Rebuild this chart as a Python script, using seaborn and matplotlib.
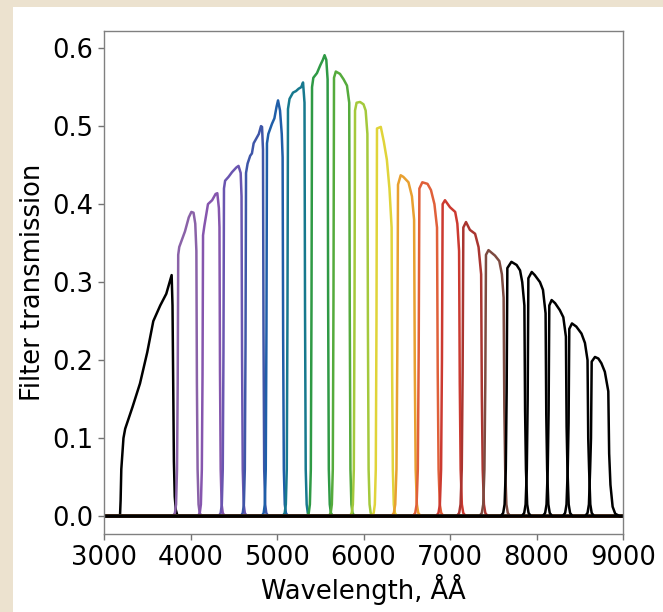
import matplotlib
matplotlib.use("Agg")
import matplotlib.pyplot as plt
import seaborn as sns
import pandas as pd
from matplotlib.patches import Rectangle

# ---------------- data ----------------
wave_f00 = [3000, 3185, 3192, 3200, 3225, 3245, 3330, 3416, 3500, 3570, 3650, 3720, 3782, 3792, 3800, 3808, 3818, 3830, 3850, 9000]
trans_f00 = [0, 0, 0.02, 0.06, 0.10, 0.112, 0.14, 0.17, 0.21, 0.25, 0.27, 0.285, 0.309, 0.27, 0.17, 0.07, 0.025, 0.008, 0, 0]

wave_f01 = [3000, 3798, 3820, 3833, 3844, 3852, 3858, 3870, 3936, 3980, 4010, 4035, 4055, 4068, 4074, 4082, 4093, 4106, 4128, 9000]
trans_f01 = [0, 0, 0.004, 0.015, 0.06, 0.17, 0.335, 0.345, 0.365, 0.383, 0.39, 0.389, 0.375, 0.34, 0.17, 0.06, 0.015, 0.004, 0, 0]

wave_f02 = [3000, 4085, 4107, 4120, 4131, 4139, 4145, 4160, 4202, 4250, 4290, 4310, 4328, 4335, 4341, 4349, 4360, 4373, 4395, 9000]
trans_f02 = [0, 0, 0.004, 0.015, 0.06, 0.18, 0.36, 0.372, 0.40, 0.405, 0.413, 0.414, 0.395, 0.37, 0.185, 0.06, 0.015, 0.004, 0, 0]

wave_f03 = [3000, 4327, 4349, 4362, 4373, 4381, 4387, 4400, 4440, 4480, 4530, 4555, 4580, 4590, 4596, 4604, 4615, 4628, 4650, 9000]
trans_f03 = [0, 0, 0.004, 0.015, 0.06, 0.21, 0.42, 0.43, 0.435, 0.441, 0.447, 0.449, 0.44, 0.41, 0.205, 0.06, 0.015, 0.004, 0, 0]

wave_f04 = [3000, 4582, 4604, 4617, 4628, 4636, 4642, 4660, 4690, 4710, 4730, 4760, 4790, 4815, 4827, 4838, 4844, 4852, 4863, 4876, 4898, 9000]
trans_f04 = [0, 0, 0.004, 0.015, 0.06, 0.22, 0.44, 0.452, 0.462, 0.465, 0.478, 0.484, 0.49, 0.50, 0.499, 0.47, 0.235, 0.06, 0.015, 0.004, 0, 0]

wave_f05 = [3000, 4824, 4846, 4859, 4870, 4878, 4884, 4900, 4942, 4970, 4995, 5012, 5035, 5055, 5065, 5071, 5079, 5090, 5103, 5125, 9000]
trans_f05 = [0, 0, 0.004, 0.015, 0.06, 0.24, 0.478, 0.49, 0.503, 0.51, 0.525, 0.533, 0.52, 0.49, 0.46, 0.23, 0.06, 0.015, 0.004, 0, 0]

wave_f06 = [3000, 5067, 5089, 5102, 5113, 5121, 5127, 5145, 5185, 5220, 5250, 5280, 5301, 5318, 5324, 5332, 5343, 5356, 5378, 9000]
trans_f06 = [0, 0, 0.004, 0.015, 0.06, 0.26, 0.522, 0.535, 0.543, 0.545, 0.548, 0.55, 0.556, 0.53, 0.265, 0.06, 0.015, 0.004, 0, 0]

wave_f07 = [3000, 5345, 5367, 5380, 5391, 5399, 5405, 5420, 5462, 5500, 5530, 5550, 5570, 5585, 5591, 5599, 5610, 5623, 5645, 9000]
trans_f07 = [0, 0, 0.004, 0.015, 0.06, 0.275, 0.55, 0.562, 0.568, 0.578, 0.585, 0.591, 0.585, 0.56, 0.28, 0.06, 0.015, 0.004, 0, 0]

wave_f08 = [3000, 5599, 5621, 5634, 5645, 5653, 5659, 5680, 5728, 5770, 5809, 5835, 5841, 5849, 5860, 5873, 5895, 9000]
trans_f08 = [0, 0, 0.004, 0.015, 0.06, 0.28, 0.562, 0.57, 0.567, 0.56, 0.552, 0.53, 0.265, 0.06, 0.015, 0.004, 0, 0]

wave_f09 = [3000, 5842, 5864, 5877, 5888, 5896, 5902, 5920, 5960, 6000, 6025, 6045, 6051, 6059, 6070, 6083, 6105, 9000]
trans_f09 = [0, 0, 0.004, 0.015, 0.06, 0.26, 0.52, 0.53, 0.531, 0.528, 0.52, 0.49, 0.245, 0.06, 0.015, 0.004, 0, 0]

wave_f10 = [3000, 6096, 6118, 6131, 6142, 6150, 6156, 6200, 6235, 6270, 6300, 6325, 6331, 6339, 6350, 6363, 6385, 9000]
trans_f10 = [0, 0, 0.004, 0.015, 0.06, 0.25, 0.497, 0.499, 0.48, 0.457, 0.42, 0.37, 0.185, 0.06, 0.015, 0.004, 0, 0]

wave_f11 = [3000, 6324, 6351, 6367, 6381, 6391, 6399, 6430, 6460, 6520, 6560, 6585, 6593, 6603, 6617, 6633, 6660, 9000]
trans_f11 = [0, 0, 0.004, 0.015, 0.06, 0.21, 0.425, 0.437, 0.435, 0.428, 0.41, 0.38, 0.19, 0.06, 0.015, 0.004, 0, 0]

wave_f12 = [3000, 6571, 6598, 6614, 6628, 6638, 6646, 6680, 6740, 6780, 6820, 6850, 6858, 6868, 6882, 6898, 6925, 9000]
trans_f12 = [0, 0, 0.004, 0.015, 0.06, 0.21, 0.42, 0.428, 0.426, 0.418, 0.40, 0.37, 0.185, 0.06, 0.015, 0.004, 0, 0]

wave_f13 = [3000, 6840, 6867, 6883, 6897, 6907, 6915, 6942, 7000, 7060, 7085, 7105, 7113, 7123, 7137, 7153, 7180, 9000]
trans_f13 = [0, 0, 0.004, 0.015, 0.06, 0.20, 0.40, 0.405, 0.396, 0.39, 0.375, 0.34, 0.17, 0.06, 0.015, 0.004, 0, 0]

wave_f14 = [3000, 7079, 7106, 7122, 7136, 7146, 7154, 7185, 7230, 7290, 7330, 7360, 7368, 7378, 7392, 7408, 7435, 9000]
trans_f14 = [0, 0, 0.004, 0.015, 0.06, 0.185, 0.37, 0.377, 0.367, 0.362, 0.345, 0.31, 0.155, 0.06, 0.015, 0.004, 0, 0]

wave_f15 = [3000, 7341, 7368, 7384, 7398, 7408, 7416, 7445, 7520, 7570, 7600, 7620, 7628, 7638, 7652, 7668, 7695, 9000]
trans_f15 = [0, 0, 0.004, 0.015, 0.06, 0.17, 0.335, 0.341, 0.334, 0.327, 0.31, 0.28, 0.14, 0.06, 0.015, 0.004, 0, 0]

wave_f16 = [3000, 7588, 7615, 7631, 7645, 7655, 7663, 7710, 7770, 7810, 7835, 7860, 7868, 7878, 7892, 7908, 7935, 9000]
trans_f16 = [0, 0, 0.004, 0.015, 0.06, 0.16, 0.318, 0.326, 0.322, 0.315, 0.30, 0.27, 0.135, 0.06, 0.015, 0.004, 0, 0]

wave_f17 = [3000, 7831, 7858, 7874, 7888, 7898, 7906, 7945, 7980, 8040, 8075, 8105, 8113, 8123, 8137, 8153, 8180, 9000]
trans_f17 = [0, 0, 0.004, 0.015, 0.06, 0.15, 0.305, 0.313, 0.309, 0.30, 0.29, 0.26, 0.13, 0.06, 0.015, 0.004, 0, 0]

wave_f18 = [3000, 8073, 8100, 8116, 8130, 8140, 8148, 8175, 8215, 8270, 8310, 8340, 8348, 8358, 8372, 8388, 8415, 9000]
trans_f18 = [0, 0, 0.004, 0.015, 0.06, 0.135, 0.27, 0.277, 0.273, 0.264, 0.255, 0.23, 0.115, 0.06, 0.015, 0.004, 0, 0]

wave_f19 = [3000, 8304, 8331, 8347, 8361, 8371, 8379, 8410, 8460, 8520, 8560, 8590, 8598, 8608, 8622, 8638, 8665, 9000]
trans_f19 = [0, 0, 0.004, 0.015, 0.06, 0.12, 0.24, 0.247, 0.243, 0.234, 0.222, 0.20, 0.10, 0.06, 0.015, 0.004, 0, 0]

wave_f20 = [3000, 8563, 8590, 8606, 8620, 8630, 8638, 8676, 8715, 8750, 8790, 8830, 8840, 8855, 8880, 8910, 8960, 9000]
trans_f20 = [0, 0, 0.004, 0.015, 0.06, 0.10, 0.198, 0.204, 0.202, 0.196, 0.185, 0.16, 0.08, 0.04, 0.012, 0.003, 0, 0]

filter_colors = [
    "#000000",  # broad UV filter
    "#8a62a8", "#8656ae", "#6a55b0", "#3f56a8", "#1f5ea8", "#17798e",
    "#2f9a45", "#55ab3c", "#a4c93c", "#e0d43a", "#e8a030", "#e0603a",
    "#cc3a30", "#aa3530", "#7d4a40",
    "#000000", "#000000", "#000000", "#000000", "#000000",
]

xlabel = "Wavelength, ÅÅ"
ylabel = "Filter transmission"
xticks = [3000, 4000, 5000, 6000, 7000, 8000, 9000]
yticks = [0.0, 0.1, 0.2, 0.3, 0.4, 0.5, 0.6]

# ---------------- build long table ----------------
waves = [wave_f00, wave_f01, wave_f02, wave_f03, wave_f04, wave_f05, wave_f06,
         wave_f07, wave_f08, wave_f09, wave_f10, wave_f11, wave_f12, wave_f13,
         wave_f14, wave_f15, wave_f16, wave_f17, wave_f18, wave_f19, wave_f20]
transs = [trans_f00, trans_f01, trans_f02, trans_f03, trans_f04, trans_f05, trans_f06,
          trans_f07, trans_f08, trans_f09, trans_f10, trans_f11, trans_f12, trans_f13,
          trans_f14, trans_f15, trans_f16, trans_f17, trans_f18, trans_f19, trans_f20]

rows = []
names = []
for i, (w, t) in enumerate(zip(waves, transs)):
    name = f"F{i:02d}"
    names.append(name)
    for a, b in zip(w, t):
        rows.append((name, a, b))
df = pd.DataFrame(rows, columns=["filter", "wave", "trans"])
palette = dict(zip(names, filter_colors))

# ---------------- plot ----------------
sns.set_style("ticks")
plt.rcParams["font.family"] = ["DejaVu Sans"]
plt.rcParams["text.color"] = "black"
plt.rcParams["axes.labelcolor"] = "black"

W, H = 663, 612
fig = plt.figure(figsize=(W / 100, H / 100), dpi=100, facecolor="#ece2cf")
fig.patches.append(Rectangle((13 / W, 0), 1 - 13 / W, 1 - 7 / H,
                             transform=fig.transFigure, facecolor="white",
                             edgecolor="none", zorder=-10))
ax = fig.add_axes([104 / W, 1 - 534 / H, (623 - 104) / W, (534 - 31) / H])
ax.set_zorder(5)

sns.lineplot(data=df, x="wave", y="trans", hue="filter", hue_order=names,
             palette=palette, estimator=None, sort=False, legend=False,
             linewidth=1.8, ax=ax)

ax.set_xlim(3000, 9000)
ax.set_ylim(-0.023, 0.622)
ax.set_xticks(xticks)
ax.set_yticks(yticks)
ax.set_xticklabels([str(v) for v in xticks])
ax.set_yticklabels([f"{v:.1f}" for v in yticks])
ax.tick_params(axis="both", labelsize=18.5, colors="0.45", labelcolor="black",
               length=4.5, width=1.0, pad=3.5)
ax.set_xlabel(xlabel, fontsize=18.5, labelpad=2, color="black")
ax.set_ylabel(ylabel, fontsize=18.5, labelpad=4, color="black")
for s in ax.spines.values():
    s.set_visible(True)
    s.set_color("0.5")
    s.set_linewidth(1.0)

fig.savefig("out.png", dpi=100, facecolor=fig.get_facecolor())
